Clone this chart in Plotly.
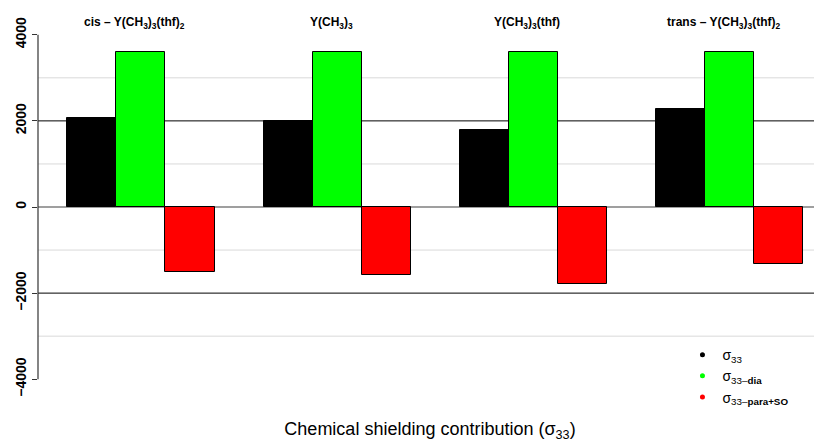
"""
Chemical shielding contribution (sigma_33) - grouped bar chart
"""

import plotly.graph_objects as go

GROUPS = [
    'cis – Y(CH<sub>3</sub>)<sub>3</sub>(thf)<sub>2</sub>',
    'Y(CH<sub>3</sub>)<sub>3</sub>',
    'Y(CH<sub>3</sub>)<sub>3</sub>(thf)',
    'trans – Y(CH<sub>3</sub>)<sub>3</sub>(thf)<sub>2</sub>',
]

SIGMA_33 = [2070, 1990, 1800, 2270]
SIGMA_DIA = [3590, 3590, 3590, 3590]
SIGMA_PARA_SO = [-1520, -1590, -1790, -1320]

SERIES_NAMES = [
    'σ<sub>33</sub>',
    'σ<sub>33–<b>dia</b></sub>',
    'σ<sub>33–<b>para+SO</b></sub>',
]
SERIES_COLORS = ['#000000', '#00FF00', '#FF0000']

Y_TICKS = [-4000, -2000, 0, 2000, 4000]
GRID_DARK = [-2000, 2000]
GRID_LIGHT = [-3000, -1000, 1000, 3000]

FONT = 'Liberation Sans, Arial, sans-serif'

fig = go.Figure()

series = [SIGMA_33, SIGMA_DIA, SIGMA_PARA_SO]
for k, (vals, name, color) in enumerate(zip(series, SERIES_NAMES, SERIES_COLORS)):
    # R barplot(beside=TRUE): 3 bars per group, one bar-width gap between groups
    xs = [4 * g + 1.5 + k for g in range(len(GROUPS))]
    fig.add_trace(go.Bar(
        x=xs,
        y=vals,
        width=1,
        marker=dict(color=color, line=dict(color='#000000', width=1)),
        showlegend=False,
    ))
    # legend entry as a dot
    fig.add_trace(go.Scatter(
        x=[None], y=[None],
        mode='markers',
        name=name,
        marker=dict(color=color, size=5),
    ))

# group titles
for g, label in enumerate(GROUPS):
    fig.add_annotation(
        x=4 * g + 2.5, y=4270,
        xref='x', yref='y',
        text='<b>' + label + '</b>',
        showarrow=False,
        xshift=-6,
        font=dict(size=12, color='#000000', family=FONT),
    )

# horizontal reference lines
for v in GRID_LIGHT:
    fig.add_shape(type='line', xref='paper', x0=0, x1=1, yref='y', y0=v, y1=v,
                  line=dict(color='#D9D9D9', width=1), layer='below')
for v in GRID_DARK:
    fig.add_shape(type='line', xref='paper', x0=0, x1=1, yref='y', y0=v, y1=v,
                  line=dict(color='#000000', width=1), layer='below')
fig.add_shape(type='line', xref='paper', x0=0, x1=1, yref='y', y0=0, y1=0,
              line=dict(color='#7F7F7F', width=1.5), layer='below')

# R-style y axis line spanning only the tick range
fig.add_shape(type='line', xref='paper', x0=0, x1=0, yref='y',
              y0=min(Y_TICKS), y1=max(Y_TICKS),
              line=dict(color='#333333', width=1.2))

# page body adds an 8px offset, margins compensate for it
fig.update_layout(
    width=822,
    height=442,
    margin=dict(l=30, r=8, t=13, b=57),
    plot_bgcolor='white',
    paper_bgcolor='white',
    font=dict(family=FONT, color='#000000'),
    bargap=0,
    xaxis=dict(
        range=[0.4, 16.39],
        showticklabels=False,
        showgrid=False,
        zeroline=False,
        showline=False,
        ticks='',
        automargin=False,
        title=dict(
            text='Chemical shielding contribution (σ<sub>33</sub>)',
            font=dict(size=18, family=FONT),
            standoff=29,
        ),
    ),
    yaxis=dict(
        range=[-4320, 4320],
        tickvals=Y_TICKS,
        ticktext=[str(v).replace('-', '−') for v in Y_TICKS],
        tickangle=-90,
        tickfont=dict(size=14, family=FONT, weight='bold'),
        ticks='outside',
        ticklen=5,
        tickcolor='#333333',
        showgrid=False,
        zeroline=False,
        showline=False,
        automargin=False,
    ),
    legend=dict(
        x=0.822, y=0.145,
        xanchor='left', yanchor='top',
        bgcolor='rgba(0,0,0,0)',
        font=dict(size=14, family=FONT),
        itemsizing='trace',
        tracegroupgap=0,
    ),
)

fig.write_html("out.html")
